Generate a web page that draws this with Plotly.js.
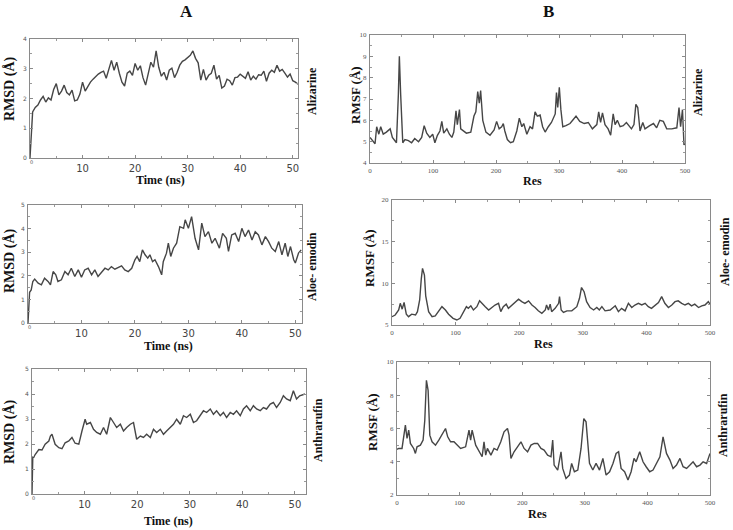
<!DOCTYPE html>
<html>
<head>
<meta charset="utf-8">
<script src="https://cdn.plot.ly/plotly-3.0.1.min.js"></script>
<style>
  body { margin: 0; background: #fff; }
  #fig { width: 733px; height: 530px; }
</style>
</head>
<body>
<div id="fig"></div>
<script>
// A - RMSD over time (ns)
const aliRmsd = [
  0, 1.55, 1.7, 1.78, 1.95, 2.07, 1.88, 2.02, 1.95, 2.3,
  2.5, 2.12, 2.25, 2.45, 2.2, 2.12, 2.28, 1.92, 1.95, 2.15,
  2.55, 2.25, 2.4, 2.55, 2.65, 2.75, 2.82, 2.88, 2.92, 2.68,
  2.95, 3.28, 2.95, 3.22, 2.85, 2.55, 2.42, 2.85, 2.92, 2.78,
  3.18, 2.95, 3.1, 2.7, 2.45, 2.8, 3.22, 3.05, 3.6, 3.05,
  2.75, 2.88, 2.62, 2.95, 3.02, 2.7, 2.88, 3.12, 3.25, 3.3,
  3.38, 3.45, 3.6, 3.35, 3.2, 2.62, 2.98, 2.62, 2.78, 2.85,
  3.12, 2.65, 2.78, 2.35, 2.42, 2.65, 2.6, 2.45, 2.7, 2.72,
  2.82, 2.75, 2.68, 2.9, 2.62, 2.75, 2.65, 2.8, 2.78, 2.92,
  2.58, 2.85, 2.95, 2.88, 3.12, 2.92, 2.98, 2.85, 2.72, 2.82,
  2.6, 2.55, 2.48
];
const aliTime = aliRmsd.map((_, i) => i * 0.5);

const aloeTime = [
  0, 0.3, 0.6, 0.9, 1.25, 1.9, 2.5, 3.1, 3.75, 4.2,
  4.7, 5.2, 5.6, 6.25, 6.9, 7.5, 8.1, 8.75, 9.4, 10,
  10.6, 11.25, 11.9, 12.5, 13.1, 13.75, 14.4, 15, 15.6, 16.25,
  16.9, 17.5, 18.1, 18.75, 19.4, 20, 20.4, 20.9, 21.4, 21.9,
  22.4, 22.8, 23.3, 23.75, 24.4, 25, 25.3, 25.9, 26.25, 26.7,
  27.2, 27.8, 28.4, 29.1, 29.4, 30, 30.6, 31.25, 31.9, 32.5,
  33.1, 33.75, 34.4, 35, 35.8, 36.4, 37.1, 37.5, 38.1, 38.75,
  39.4, 40, 40.6, 41.25, 41.9, 42.5, 43.1, 43.75, 44.4, 45,
  45.6, 46.25, 46.9, 47.5, 48.1, 48.6, 49.1, 49.7, 50, 50.6, 51.1
];
const aloeRmsd = [
  0, 1.3, 1.4, 1.76, 1.86, 1.69, 1.62, 1.9, 1.76, 1.62,
  2.18, 2.04, 1.76, 1.83, 2.18, 2.04, 2.32, 1.97, 2.25, 1.94,
  2.25, 2.32, 2.04, 2.25, 1.97, 2.14, 2.32, 2.25, 2.39, 2.28,
  2.37, 2.42, 2.25, 2.18, 2.32, 2.68, 2.82, 2.6, 3.1, 2.89,
  2.75, 2.89, 2.6, 2.68, 2.39, 2.04, 2.6, 2.96, 3.38, 2.82,
  3.17, 3.38, 4.08, 4.01, 4.37, 4.01, 4.51, 3.59, 3.1, 4.23,
  3.66, 3.87, 3.38, 3.59, 3.17, 3.8, 3.59, 3.03, 3.73, 3.8,
  3.45, 4.01, 3.66, 3.94, 3.52, 3.87, 3.73, 3.31, 3.66, 3.45,
  3.17, 3.03, 3.45, 2.89, 3.38, 2.82, 3.24, 2.68, 2.54, 2.96, 3.1
];

const anthTime = [
  0, 0.15, 0.3, 0.6, 1.3, 1.9, 2.5, 3.2, 3.5, 3.8,
  4.4, 5.1, 5.7, 6.3, 7.0, 7.6, 8.2, 8.9, 9.5, 10.1,
  10.4, 11.1, 11.7, 12.3, 13.0, 13.6, 14.2, 14.9, 15.5, 16.1,
  16.8, 17.4, 18.0, 18.7, 19.3, 19.9, 20.6, 21.2, 21.8, 22.5,
  23.1, 23.7, 24.4, 25.0, 25.6, 26.3, 26.9, 27.5, 28.2, 28.8,
  29.4, 30.1, 30.7, 31.3, 32.0, 32.6, 33.2, 33.9, 34.5, 35.1,
  35.8, 36.4, 37.0, 37.7, 38.3, 38.9, 39.6, 40.2, 40.8, 41.5,
  42.1, 42.7, 43.4, 44.0, 44.6, 45.3, 45.9, 46.5, 47.2, 47.8,
  48.4, 49.1, 49.7, 50.3, 50.9, 51.9
];
const anthRmsd = [
  0, 1.5, 1.45, 1.58, 1.78, 1.76, 1.99, 2.12, 2.32, 2.39,
  1.99, 1.85, 1.81, 2.05, 2.12, 2.26, 2.03, 1.99, 2.52, 2.99,
  2.79, 2.86, 2.59, 2.46, 2.39, 2.66, 2.39, 3.06, 2.86, 2.66,
  2.79, 2.52, 2.66, 2.79, 2.86, 2.19, 2.32, 2.26, 2.39, 2.26,
  2.59, 2.46, 2.59, 2.39, 2.52, 2.66, 2.79, 2.99, 2.79, 3.13,
  3.06, 3.19, 2.86, 2.93, 3.13, 3.33, 3.26, 3.4, 3.19, 3.33,
  3.13, 3.26, 3.06, 3.26, 3.19, 3.33, 3.13, 3.4, 3.53, 3.33,
  3.53, 3.4, 3.33, 3.46, 3.4, 3.6, 3.66, 3.46, 3.66, 3.93,
  3.8, 3.73, 4.13, 3.8, 3.93, 4.0
];

// B - RMSF per residue
const aliRes = [
  0, 4, 8, 10.6, 14, 17, 21, 26, 32, 35.5,
  40, 42, 45, 46.6, 48.7, 52, 55.5, 61, 66, 71,
  77, 82, 86, 90, 95, 99.5, 103, 107, 111, 114,
  117, 122, 126, 130, 133, 136.5, 138.6, 142, 144, 148,
  153, 160, 165, 168, 171, 173.5, 175.6, 179, 184, 190.5,
  197, 201, 205, 209, 211.6, 214, 218, 223, 227.5, 233,
  237, 241, 244, 249, 254, 258, 262, 265.6, 270, 274,
  278, 283, 288, 294, 296, 298, 300.5, 303, 306, 311,
  317.5, 323, 327, 333, 340, 346.5, 353, 360, 363, 366,
  369, 373, 378, 382, 386, 389, 392.6, 397, 402, 407,
  415, 419, 422, 425, 428.6, 433, 436.5, 444, 450, 455,
  460, 465.6, 471, 479, 487, 490.5, 493, 496, 498.4, 500
];
const aliRmsf = [
  5.2, 5.05, 4.9, 5.7, 5.35, 5.7, 5.35, 5.45, 5.6, 5.2,
  5.0, 4.95, 7.2, 9.0, 7.2, 4.95, 5.1, 5.05, 4.95, 5.15,
  5.0, 5.2, 5.75, 5.4, 5.2, 5.35, 4.95, 5.3, 5.5, 5.95,
  5.4, 5.6, 5.35, 5.2, 5.45, 6.45, 5.8, 6.5, 5.6, 5.5,
  5.4, 5.45, 6.2, 6.4, 7.35, 6.8, 7.4, 6.0, 5.45, 5.3,
  5.55, 5.95, 5.6, 5.7, 5.85, 5.5, 5.1, 4.95, 5.0, 5.5,
  6.1, 5.7, 5.85, 5.35, 5.7, 5.6, 6.4, 6.2, 6.25, 5.7,
  5.45, 5.7, 5.9, 6.3, 7.3, 6.6, 7.55, 6.5, 5.7, 5.75,
  5.85, 6.05, 6.2, 5.95, 5.85, 5.9, 5.6, 5.8, 6.4, 5.9,
  6.35, 5.8, 5.6, 5.3, 6.3, 5.8, 6.0, 5.7, 5.75, 5.9,
  5.6, 5.8, 6.75, 6.6, 5.5, 5.9, 5.6, 5.75, 5.85, 5.65,
  6.0, 5.95, 5.6, 5.6, 5.65, 6.6, 5.7, 6.5, 4.85, 4.9
];

const aloeRes = [
  0, 5, 10.5, 13, 16, 19, 22.5, 26, 31, 37,
  40, 43.5, 46, 48, 51, 53, 57.6, 63, 68, 73,
  78.5, 84, 89, 96, 102, 107, 112.6, 117, 120, 124,
  128, 133.5, 137.7, 141, 146.6, 152, 157, 162, 167.5, 171,
  175, 179.6, 183, 188.5, 194, 199, 204, 209, 214.7, 220,
  225, 230, 235.6, 241, 243, 246, 248.7, 251, 256.5, 262,
  263.4, 266, 269.6, 275, 282.7, 290.6, 294.8, 298, 302, 306,
  311.5, 317, 322, 326, 330, 335, 343, 351, 356, 361,
  366.5, 371.7, 377, 382, 387.4, 392.7, 398, 403, 408, 413.6,
  419, 424, 429, 434.6, 440, 445, 450, 455.5, 460.7, 466,
  471, 476, 482, 487, 492, 497.4, 500
];
const aloeRmsf = [
  6.0, 6.2, 6.8, 7.6, 6.9, 7.7, 6.3, 6.0, 6.3, 6.2,
  6.6, 8.0, 10.5, 11.8, 11.0, 8.5, 6.6, 6.0, 6.1, 6.6,
  7.2, 6.8, 6.3, 5.8, 5.6, 5.8, 6.6, 7.2, 7.0, 7.3,
  6.8, 7.2, 7.9, 7.6, 7.2, 6.8, 7.1, 7.4, 7.6, 6.6,
  7.2, 7.5, 7.0, 7.4, 7.8, 8.1, 7.8, 7.6, 7.9, 7.4,
  7.1, 6.7, 6.4, 6.8, 7.4, 6.8, 7.5, 6.6, 7.0, 7.6,
  8.4, 6.8, 6.5, 6.7, 6.7, 7.2, 8.2, 9.5, 9.0, 7.8,
  7.1, 6.8, 7.1, 6.8, 7.2, 6.7, 6.8, 7.3, 6.6, 7.0,
  6.7, 7.6, 7.1, 7.4, 7.6, 7.4, 7.6, 7.2, 7.0, 7.4,
  7.7, 8.4, 7.6, 7.1, 7.4, 7.8, 7.9, 7.6, 7.4, 7.6,
  7.3, 7.5, 7.1, 7.3, 7.4, 7.8, 7.5
];

const anthRes = [
  0, 2.7, 8, 10.7, 13.4, 16, 18.7, 21.4, 26.7, 29.4,
  32, 37.4, 41.7, 44.4, 47, 49.7, 52.4, 56, 61.5, 66.8,
  72, 77.5, 81, 85.6, 91, 96, 101.6, 109.6, 115, 117.6,
  120, 125.7, 131, 136, 139, 141.7, 144.4, 150, 155, 160,
  165.8, 171, 176.5, 179, 182, 187, 192.5, 198, 203, 208.6,
  214, 219.3, 224.6, 230, 235, 240.6, 246, 248.7, 251, 256.7,
  262, 264.7, 270, 275.4, 279, 283.4, 288.8, 294, 298.4, 302,
  307.5, 312.8, 318, 323.5, 328.9, 334, 339.6, 345, 350, 354,
  358, 363.6, 369, 374, 378.6, 382, 387.7, 393, 398, 403.7,
  409, 414, 420, 425, 430.5, 436, 441, 446.5, 452, 457,
  462.6, 468, 473, 478.6, 484, 489, 494.6, 500
];
const anthRmsf = [
  4.75, 4.8, 4.8, 5.4, 6.2, 5.4, 5.9, 5.1, 4.8, 4.5,
  4.9, 5.0, 5.3, 6.5, 8.9, 8.3, 5.6, 5.2, 5.0, 5.3,
  5.6, 6.0, 5.5, 5.2, 5.2, 5.0, 4.8, 4.9, 5.9, 5.3,
  5.9, 5.0, 4.6, 4.3, 5.2, 4.4, 4.8, 4.4, 4.8, 4.7,
  5.2, 5.8, 6.0, 5.6, 4.2, 4.6, 4.9, 5.2, 4.8, 4.6,
  5.0, 5.1, 5.1, 4.8, 4.7, 4.4, 4.3, 5.3, 3.8, 3.5,
  4.6, 3.6, 3.0, 3.2, 3.9, 3.4, 3.5, 4.8, 6.6, 6.4,
  3.9, 3.5, 3.9, 3.5, 4.2, 3.2, 3.4, 3.9, 4.5, 4.6,
  3.6, 3.4, 2.9, 3.4, 4.2, 4.0, 4.6, 4.0, 3.7, 3.4,
  3.5, 3.9, 4.3, 5.5, 4.5, 4.1, 3.6, 3.8, 4.2, 3.7,
  3.6, 3.8, 4.0, 3.7, 3.8, 4.0, 3.9, 4.5
];

const timeTicks = [10, 20, 30, 40, 50];

const W = 733, H = 530;
const px = x => x / W;
const py = y => 1 - y / H;

const lineStyle = { color: "#464646", width: 1.4 };
const traces = [
  { x: aliTime, y: aliRmsd, xaxis: "x", yaxis: "y" },
  { x: aliRes, y: aliRmsf, xaxis: "x2", yaxis: "y2" },
  { x: aloeTime, y: aloeRmsd, xaxis: "x3", yaxis: "y3" },
  { x: aloeRes, y: aloeRmsf, xaxis: "x4", yaxis: "y4" },
  { x: anthTime, y: anthRmsd, xaxis: "x5", yaxis: "y5" },
  { x: anthRes, y: anthRmsf, xaxis: "x6", yaxis: "y6" }
].map(t => Object.assign(t, { type: "scatter", mode: "lines", line: lineStyle, showlegend: false }));

function axis(dom, range, dtick, minorDtick, anchor, font) {
  return {
    domain: dom, range: range, dtick: dtick, tick0: 0, anchor: anchor,
    showline: true, linecolor: "#8a8a8a", linewidth: 1, mirror: "allticks",
    ticks: "inside", ticklen: 3, tickcolor: "#8a8a8a",
    minor: { dtick: minorDtick, ticks: "inside", ticklen: 2, tickcolor: "#9a9a9a" },
    showgrid: false, zeroline: false, tickfont: font, ticklabelstandoff: 1
  };
}
function timeAxis(dom, range, anchor) {
  const a = axis(dom, range, 10, 5, anchor, timeFont);
  a.tickmode = "array";
  a.tickvals = timeTicks;
  a.minor = { tickvals: [0, 5, 15, 25, 35, 45], ticks: "inside", ticklen: 2, tickcolor: "#9a9a9a" };
  return a;
}
const tinySans = { family: "DejaVu Sans", size: 6, color: "#555" };
const timeFont = { family: "DejaVu Sans", size: 10, color: "#444" };
const tinySerif = { family: "Liberation Serif", size: 7, color: "#555" };

const layout = {
  width: W, height: H,
  margin: { l: 0, r: 0, t: 0, b: 0 },
  paper_bgcolor: "#fff", plot_bgcolor: "#fff",
  xaxis: timeAxis([px(30), px(298)], [0, 51], "y"),
  yaxis: axis([py(158), py(39)], [0, 4], 1, 0.5, "x", tinySans),
  xaxis2: axis([px(370), px(685)], [0, 500], 100, 50, "y2", tinySerif),
  yaxis2: axis([py(163), py(35)], [4, 10], 1, 0.5, "x2", tinySerif),
  xaxis3: timeAxis([px(28), px(302)], [0, 51.25], "y3"),
  yaxis3: axis([py(323), py(205)], [0, 5], 1, 0.5, "x3", tinySans),
  xaxis4: axis([px(392), px(710)], [0, 500], 100, 50, "y4", tinySerif),
  yaxis4: axis([py(325), py(200)], [5, 20], 5, 2.5, "x4", tinySerif),
  xaxis5: timeAxis([px(32), px(306)], [0, 52.1], "y5"),
  yaxis5: axis([py(494), py(369)], [0, 5], 1, 0.5, "x5", tinySans),
  xaxis6: axis([px(397), px(710)], [0, 500], 100, 50, "y6", tinySerif),
  yaxis6: axis([py(495), py(362)], [2, 10], 2, 1, "x6", tinySerif),
  annotations: []
};

function label(text, x, y, rot, size, isBold) {
  layout.annotations.push({
    text: isBold === false ? text : "<b>" + text + "</b>",
    x: px(x), y: py(y), xref: "paper", yref: "paper",
    showarrow: false, textangle: rot || 0, xanchor: "center", yanchor: "middle",
    font: { family: isBold === false ? "DejaVu Sans" : "Liberation Serif", size: size, color: isBold === false ? "#555" : "#111" }
  });
}
label("A", 186, 12, 0, 17);
label("B", 548, 12, 0, 17);
// column A
label("RMSD (Å)", 10, 89, -90, 14);
label("Alizarine", 312, 91, -90, 12);
label("Time (ns)", 160, 180, 0, 12);
label("RMSD (Å)", 10, 261, -90, 14);
label("Aloe- emodin", 312, 267, -90, 12);
label("Time (ns)", 168, 346, 0, 12);
label("RMSD (Å)", 10, 432, -90, 14);
label("Anthrarufin", 318, 430, -90, 12);
label("Time (ns)", 168, 521, 0, 12);
label("0", 31, 162, 0, 5, false);
label("0", 29, 327, 0, 5, false);
label("0", 33, 498, 0, 5, false);
// column B
label("RMSF (Å)", 356, 95, -90, 13);
label("Alizarine", 698, 92, -90, 12);
label("Res", 532, 181, 0, 12);
label("RMSF (Å)", 369, 258, -90, 13);
label("Aloe- emodin", 725, 252, -90, 12);
label("Res", 543, 344, 0, 12);
label("RMSF (Å)", 372, 422, -90, 13);
label("Anthrarufin", 723, 425, -90, 12);
label("Res", 537, 514, 0, 12);

Plotly.newPlot("fig", traces, layout, { displayModeBar: false, staticPlot: true });
</script>
</body>
</html>
